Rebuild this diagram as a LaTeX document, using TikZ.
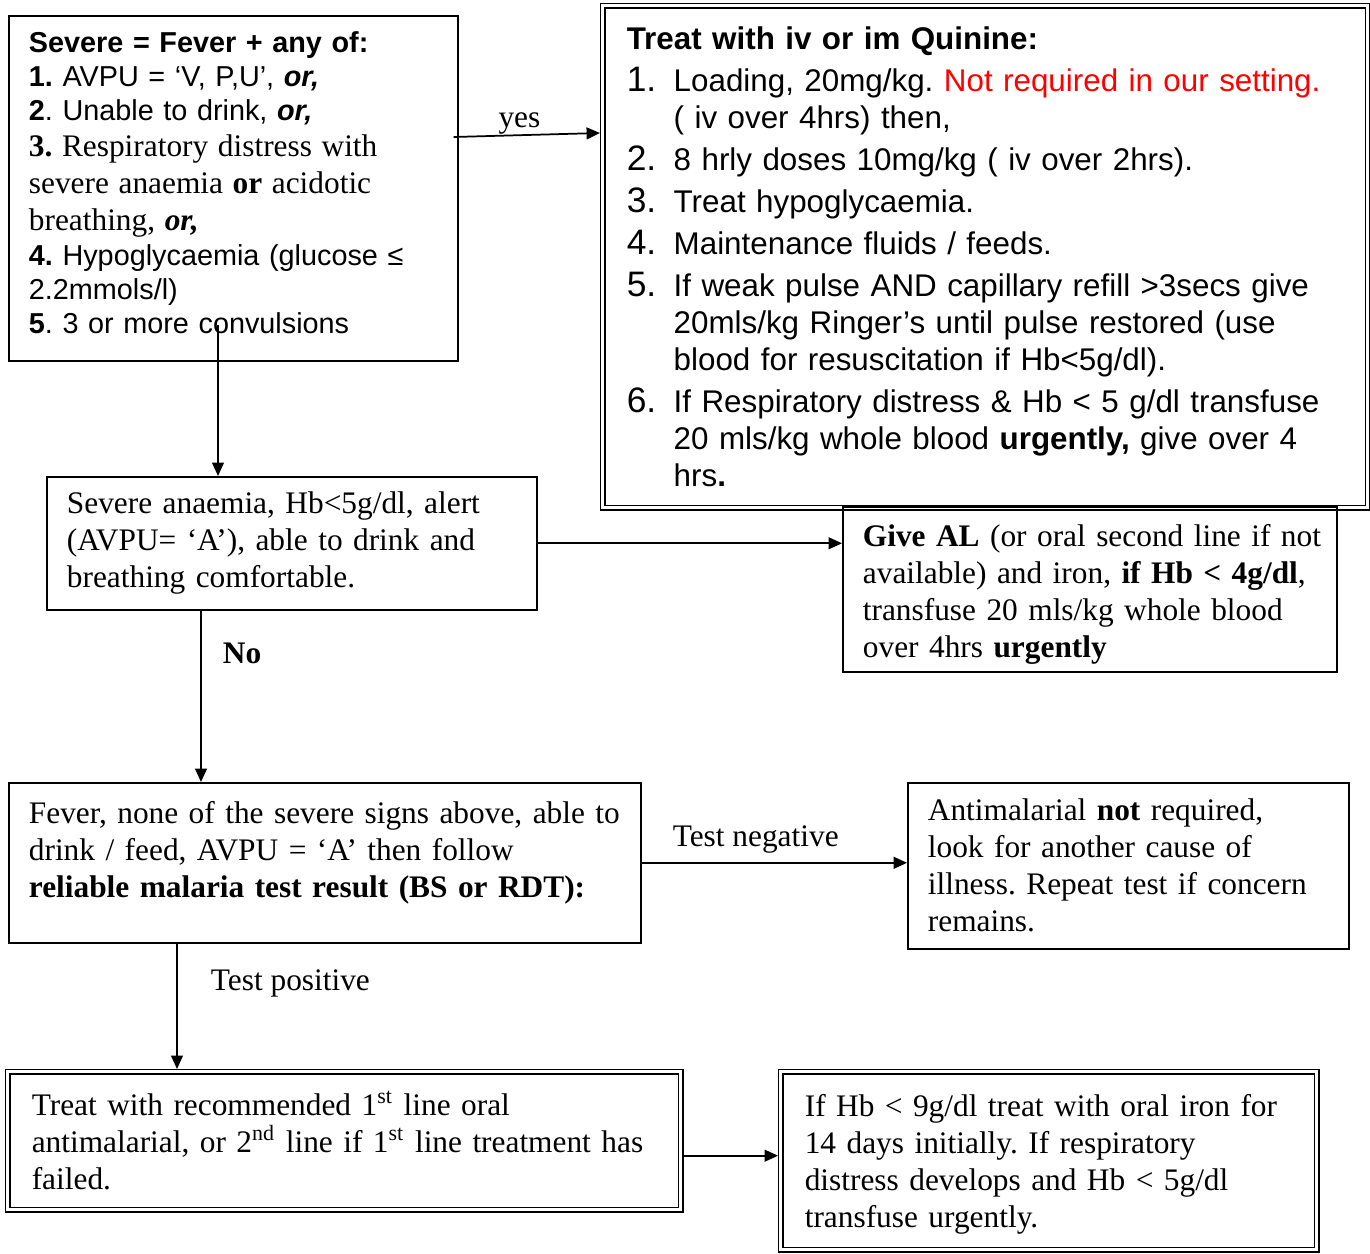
\documentclass[tikz,border=0pt]{standalone}
\usepackage{fontspec}
\setmainfont{Liberation Serif}
\setsansfont{Liberation Sans}
\usetikzlibrary{arrows.meta,calc}

\frenchspacing
\newcommand{\qnum}[1]{\makebox[17.5pt][l]{\fontsize{13.2}{14}\selectfont #1}}
\newcommand{\qind}{\hspace*{17.5pt}}

\begin{document}
\begin{tikzpicture}[x=0.3731pt,y=-0.3731pt,
        font=\fontsize{11.7}{13.8}\selectfont,
        box/.style={draw, line width=0.6pt, anchor=north west, align=left,
                        inner xsep=7.5pt, inner ysep=0pt},
        dbox/.style={box, double, line width=0.55pt, double distance=1.2pt,
                        outer sep=1pt, inner xsep=9pt},
        arr/.style={line width=0.65pt, -{Triangle[length=5pt,width=4.4pt]}}]
    \useasboundingbox (0,0) rectangle (1370,1254);

    \node[box, font=\sffamily\fontsize{10.75}{12.65}\selectfont,
          text width=152.5pt, minimum height=128.7pt] (sev) at (8,15)
        {\textbf{Severe = Fever + any of:}\\
         \textbf{1.} AVPU = ‘V, P,U’, \textbf{\textit{or,}}\\
         \textbf{2}. Unable to drink, \textbf{\textit{or,}}\\[0.9pt]
         {\rmfamily\fontsize{11.7}{13.8}\selectfont\textbf{3.} Respiratory distress with}\\[1.1pt]
         {\rmfamily\fontsize{11.7}{13.8}\selectfont severe anaemia \textbf{or} acidotic}\\[1.1pt]
         {\rmfamily\fontsize{11.7}{13.8}\selectfont breathing, \textbf{\textit{or,}}}\\[0.5pt]
         \textbf{4.} Hypoglycaemia (glucose ≤\\
         2.2mmols/l)\\
         \textbf{5}. 3 or more convulsions\\[-8.5pt]\mbox{}};

    \node[dbox, font=\sffamily\fontsize{11.7}{13.8}\selectfont,
          text width=267.4pt, minimum height=187.3pt] (qui) at (600,3)
        {\textbf{Treat with iv or im Quinine:}\\[1.9pt]
         \qnum{1.}Loading, 20mg/kg. \textcolor{red}{Not required in our setting.}\\
         \qind( iv over 4hrs) then,\\[1.9pt]
         \qnum{2.}8 hrly doses 10mg/kg ( iv over 2hrs).\\[1.9pt]
         \qnum{3.}Treat hypoglycaemia.\\[1.9pt]
         \qnum{4.}Maintenance fluids / feeds.\\[1.9pt]
         \qnum{5.}If weak pulse AND capillary refill >3secs give\\
         \qind 20mls/kg Ringer’s until pulse restored (use\\
         \qind blood for resuscitation if Hb<5g/dl).\\[1.9pt]
         \qnum{6.}If Respiratory distress \& Hb < 5 g/dl transfuse\\
         \qind 20 mls/kg whole blood \textbf{urgently,} give over 4\\
         \qind hrs\textbf{.}};

    \node[box, text width=167.8pt, minimum height=49.6pt] (ana) at (46,476)
        {Severe anaemia, Hb<5g/dl, alert\\
         (AVPU= ‘A’), able to drink and\\
         breathing comfortable.};

    \node[box, text width=169.3pt, minimum height=61.6pt] (al) at (842,506)
        {\rule{0pt}{12pt}\mbox{\textbf{Give AL} (or oral second line if not}\\
         \mbox{available) and iron, \textbf{if Hb < 4g/dl},}\\
         transfuse 20 mls/kg whole blood\\
         over 4hrs \textbf{urgently}};

    \node[box, text width=220.8pt, minimum height=59.7pt] (fev) at (8,782)
        {Fever, none of the severe signs above, able to\\
         drink / feed, AVPU = ‘A’ then follow\\
         \textbf{reliable malaria test result (BS or RDT):}\\[-3.5pt]\mbox{}};

    \node[box, text width=149.5pt, minimum height=61.9pt] (neg) at (907,782)
        {Antimalarial \textbf{not} required,\\
         look for another cause of\\
         illness. Repeat test if concern\\
         remains.};

    \node[dbox, text width=233.1pt, minimum height=51.5pt] (tr1) at (5,1069)
        {Treat with recommended 1\textsuperscript{st} line oral\\
         antimalarial, or 2\textsuperscript{nd} line if 1\textsuperscript{st} line treatment has\\
         failed.};

    \node[dbox, text width=182pt, minimum height=66.4pt] (iron) at (778,1069)
        {\rule{0pt}{11pt}If Hb < 9g/dl treat with oral iron for\\
         14 days initially. If respiratory\\
         distress develops and Hb < 5g/dl\\
         transfuse urgently.};

    \coordinate (cv) at (218,325);
    \coordinate (nodn) at ($(ana.south west)+(155,0)$);
    \coordinate (posdn) at ($(fev.south west)+(169,0)$);
    \coordinate (irn) at ($(tr1.east)+(0,15)$);

    \draw[arr] ($(sev.north east)+(-5,122)$) -- node[above, pos=0.45, yshift=-3.3pt] (yes) {yes}
        ($(qui.north west)+(0,130)$);
    \draw[arr] (cv) -- (cv |- ana.north);
    \draw[arr] (ana.east) -- (ana.east -| al.west);
    \draw[arr] (nodn) -- node[right, pos=0.25, xshift=4.5pt,
                font=\fontsize{11.7}{13.8}\selectfont\bfseries] (no) {No}
        (nodn |- fev.north);
    \draw[arr] (fev.east) -- node[above, pos=0.43] (tneg) {Test negative}
        (fev.east -| neg.west);
    \draw[arr] (posdn) -- node[right, pos=0.32, xshift=9pt] (tpos) {Test positive}
        (posdn |- tr1.north);
    \draw[arr] (irn) -- (irn -| iron.west);
\end{tikzpicture}
\end{document}
